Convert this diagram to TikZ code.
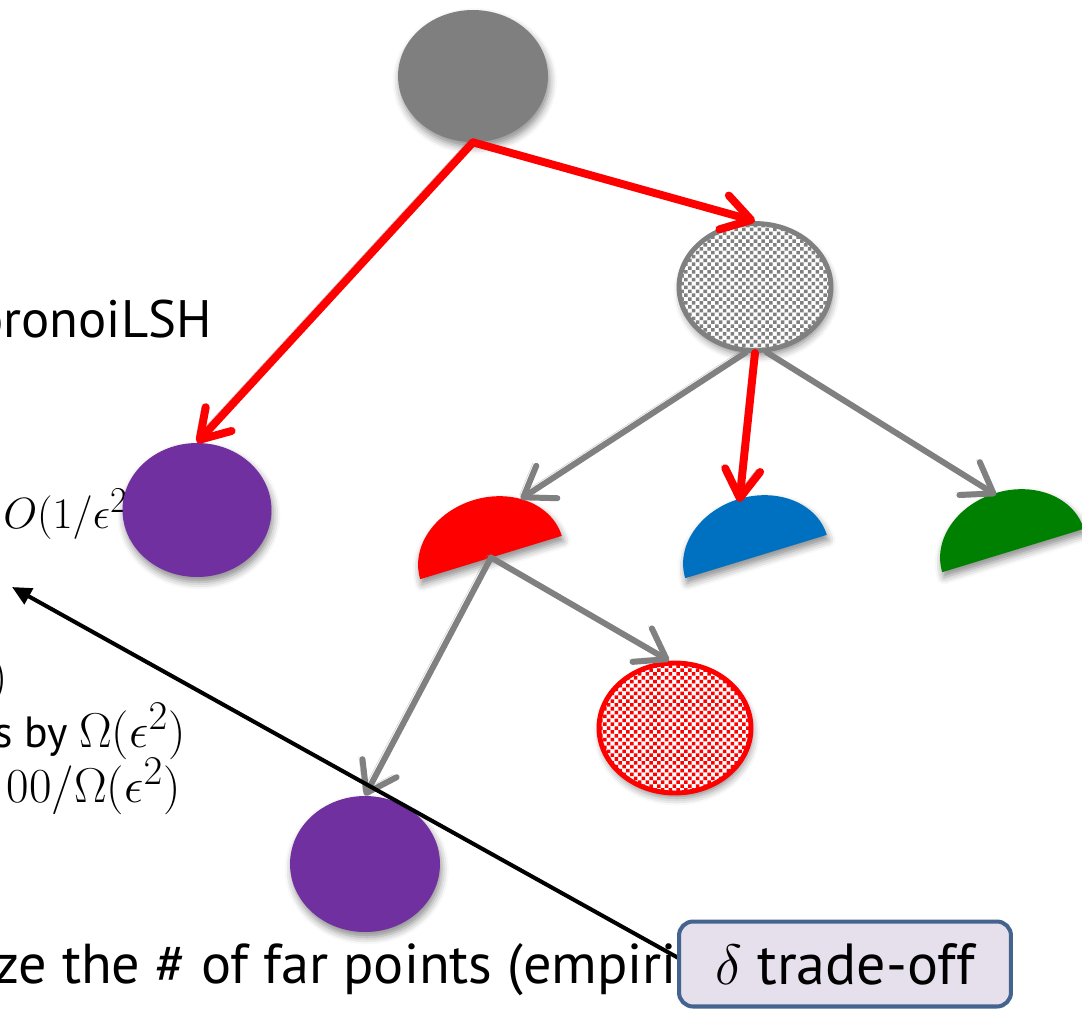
\documentclass[tikz,border=0pt]{standalone}
\usepackage{fontspec}
\setmainfont{PT Sans}
\usetikzlibrary{shapes.geometric,arrows.meta,shadows.blur,patterns}

\definecolor{nodegray}{HTML}{7F7F7F}
\definecolor{arrgray}{HTML}{808080}
\definecolor{violet}{HTML}{7030A0}
\definecolor{halfblue}{HTML}{0070C0}
\definecolor{halfgreen}{HTML}{008000}
\definecolor{boxfill}{HTML}{E5E0EC}
\definecolor{boxedge}{HTML}{44648F}

% small staggered squares
\pgfdeclarepatternformonly{squaredots}{\pgfqpoint{-0.5pt}{-0.5pt}}{\pgfqpoint{4.9pt}{4.9pt}}{\pgfqpoint{4.4pt}{4.4pt}}{%
  \pgfpathrectangle{\pgfqpoint{0pt}{0pt}}{\pgfqpoint{2pt}{2pt}}%
  \pgfpathrectangle{\pgfqpoint{2.2pt}{2.2pt}}{\pgfqpoint{2pt}{2pt}}%
  \pgfusepath{fill}}

% enlarged formula (math fonts stop at 24.88pt)
\newcommand{\bigmath}[2][1.12]{\scalebox{#1}{$#2$}}

\begin{document}
\begin{tikzpicture}[x=0.02cm,y=-0.02cm,
  soft/.style={blur shadow={shadow xshift=1pt,shadow yshift=-3pt,shadow blur radius=4pt,shadow opacity=45}},
  blob/.style={ellipse,inner sep=0pt,soft},
  bigtxt/.style={font=\fontsize{30}{36}\selectfont,inner sep=0pt},
  midtxt/.style={font=\fontsize{24.88}{30}\selectfont,inner sep=0pt},
  lowtxt/.style={font=\fontsize{32}{38}\selectfont,inner sep=0pt},
  redarr/.style={draw=red,line width=4.5pt,line cap=round,
    -{Straight Barb[length=16pt,width=20pt,round]},
    preaction={draw=black!55,opacity=.45,transform canvas={xshift=-2pt,yshift=1.5pt}}},
  grayarr/.style={draw=arrgray,line width=3.4pt,line cap=round,
    -{Straight Barb[length=16pt,width=22pt,round]},
    preaction={draw=black!45,opacity=.35,transform canvas={xshift=-2pt,yshift=1.5pt}}},
  blackarr/.style={draw=black,line width=2.3pt,-{Triangle[length=11pt,width=10pt]}},
]
\useasboundingbox (0,0) rectangle (1082,1012);
\clip (0,0) rectangle (1082,1012);

% text on the left, partly hidden by the tree
\node[bigtxt,anchor=base east] (vor) at (212,337) {VoronoiLSH};
\node[midtxt,anchor=base west] (big) at (3,528) {$O(1/\epsilon^2)$};
\node[midtxt,anchor=base east] (par) at (8,692) {\bigmath{)}};
\node[midtxt,anchor=base east] (red) at (186,747) {s by \bigmath{\Omega(\epsilon^2)}};
\node[midtxt,anchor=base east] (cnt) at (181,802) {\bigmath{00/\Omega(\epsilon^2)}};
\node[lowtxt,anchor=base west] (far) at (-6,983) {ze the \# of far points (empiric};

% tree nodes
\node[blob,fill=nodegray,minimum width=3cm,minimum height=2.64cm] (top) at (473,76) {};
\node[blob,draw=arrgray,line width=2.8pt,preaction={fill=white},pattern=squaredots,pattern color=arrgray,
      minimum width=3.04cm,minimum height=2.54cm] (hatch) at (755,287) {};
\node[blob,fill=violet,minimum width=2.98cm,minimum height=2.68cm] (pl) at (197,510) {};
\node[blob,draw=red,line width=2.8pt,preaction={fill=white},pattern=squaredots,pattern color=red,
      minimum width=3.04cm,minimum height=2.6cm] (rd) at (675,728) {};
\node[blob,fill=violet,minimum width=3cm,minimum height=2.72cm] (pb) at (365,864) {};

% half discs
\begin{scope}[shift={(491,557.5)},rotate=17]
  \fill[red,soft] (-74,0) arc[start angle=180,end angle=360,x radius=74,y radius=60] -- cycle;
  \coordinate (rh-c) at (0,0);
  \coordinate (rh-r) at (308:74 and 60);
\end{scope}
\begin{scope}[shift={(756,556.5)},rotate=17]
  \fill[halfblue,soft] (-74,0) arc[start angle=180,end angle=360,x radius=74,y radius=60] -- cycle;
  \coordinate (bh-t) at (0,-57);
\end{scope}
\begin{scope}[shift={(1013,550.5)},rotate=17]
  \fill[halfgreen,soft] (-74,0) arc[start angle=180,end angle=360,x radius=74,y radius=60] -- cycle;
  \coordinate (gh-t) at (0,-58);
\end{scope}

% connectors
\draw[redarr] (top.south) -- (pl.north);
\draw[redarr] (top.south) -- (hatch.north);
\draw[grayarr] (hatch.-98) -- (rh-r);
\draw[grayarr] (hatch.-80) -- (gh-t);
\draw[redarr] (hatch.south) -- (bh-t);
\draw[grayarr] (rh-c) -- (rd.95);
\draw[grayarr] (rh-c) -- (pb.north);

% trade-off pointer and its box
\coordinate (tip) at (12,587);
\coordinate (bstart) at (700,970);
\draw[blackarr] (bstart) -- (tip);
\node[draw=boxedge,fill=boxfill,line width=2.3pt,rounded corners=8pt,inner sep=0pt,
      font=\fontsize{33}{38}\selectfont,
      minimum width=6.64cm,minimum height=1.7cm] (box) at (845,964)
      {\fontsize{24.88}{30}\selectfont\bigmath[1.3]{\delta}\fontsize{33}{38}\selectfont\ trade-off};
\end{tikzpicture}
\end{document}
